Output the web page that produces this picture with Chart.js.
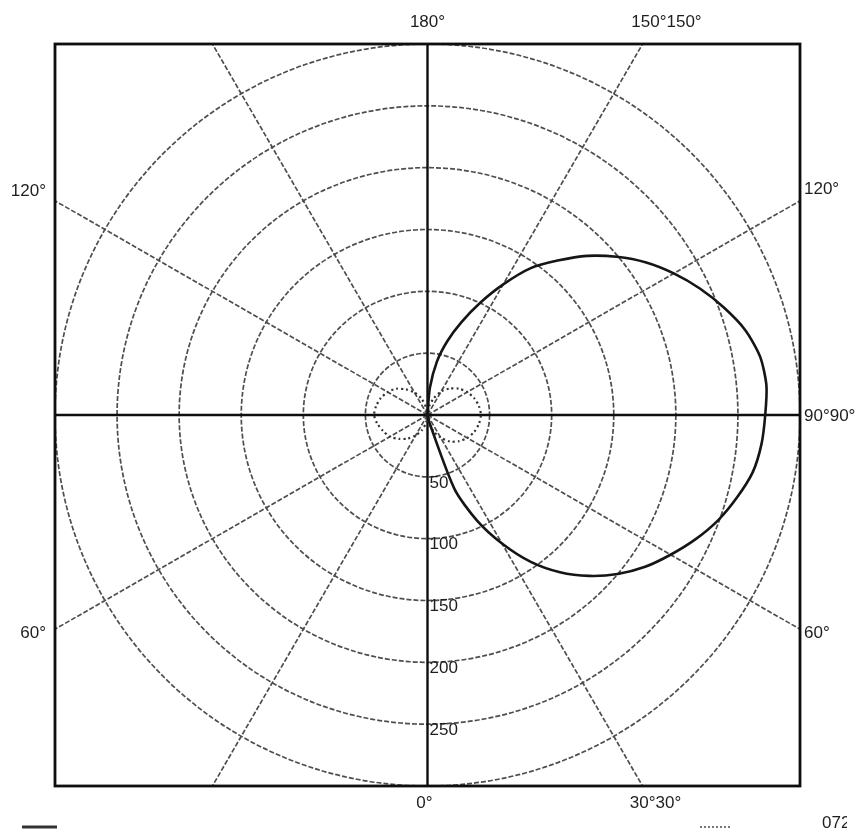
<!DOCTYPE html>
<html>
<head>
<meta charset="utf-8">
<script src="https://cdn.jsdelivr.net/npm/chart.js@4.4.1/dist/chart.umd.min.js"></script>
<style>
  html, body { margin: 0; padding: 0; background: #fff; }
  #wrap { position: relative; width: 862px; height: 837px; }
</style>
</head>
<body>
<div id="wrap"><canvas id="polar"></canvas></div>
<script>
// angles measured from the bottom (0°) round through the right (90°) to the top (180°)
const solidAngles = [0, 5, 10, 15, 20, 25, 30, 35, 40, 45, 50, 55, 60, 65, 70, 75, 80, 85, 90,
  95, 100, 105, 110, 115, 120, 125, 130, 135, 140, 145, 150, 155, 160, 165, 170, 175, 180]
const solidValues = [0, 0, 0, 8, 64, 94, 120, 145, 166, 184, 200, 214, 226, 238, 249, 258, 266, 270, 272,
  274, 272, 265, 254, 242, 229, 215, 199, 182, 163, 145, 122, 100, 80, 62, 44, 22, 0]

const dottedAngles = [0, 10, 20, 30, 40, 50, 60, 70, 80, 90, 100, 110, 120, 130, 140, 150, 160, 170,
  180, 190, 200, 210, 220, 230, 240, 250, 260, 270, 280, 290, 300, 310, 320, 330, 340, 350, 360]
const dottedValues = [0, 6, 14, 21, 28, 33, 37, 40, 42, 43, 42, 40, 37, 33, 28, 22, 14, 7,
  0, 6, 14, 21, 27, 33, 37, 40, 42, 43, 41, 38, 35, 30, 25, 19, 13, 6, 0]

const ringValues = [50, 100, 150, 200, 250, 300]
const ringLabels = ['50', '100', '150', '200', '250']
const spokeAngles = [30, 60, 120, 150, 210, 240, 300, 330]
const axisAngles = [0, 90, 180, 270]
const legendNote = '0720'

const toXY = (angles, values) => angles.map((a, i) => {
  const t = a * Math.PI / 180
  return { x: values[i] * Math.sin(t), y: -values[i] * Math.cos(t) }
})

const gridPlugin = {
  id: 'polarGrid',
  beforeDatasetsDraw(chart) {
    const { ctx, chartArea: ca, scales: { x, y } } = chart
    const cx = x.getPixelForValue(0)
    const cy = y.getPixelForValue(0)
    ctx.save()
    ctx.beginPath()
    ctx.rect(ca.left, ca.top, ca.right - ca.left, ca.bottom - ca.top)
    ctx.clip()

    // rings
    ctx.strokeStyle = '#4e4e4e'
    ctx.lineWidth = 1.7
    ctx.setLineDash([5, 2])
    ringValues.forEach(v => {
      const rx = x.getPixelForValue(v) - cx
      const ry = cy - y.getPixelForValue(v)
      ctx.beginPath()
      ctx.ellipse(cx, cy, rx, ry, 0, 0, Math.PI * 2)
      ctx.stroke()
    })

    // spokes every 30°
    spokeAngles.forEach(a => {
      const t = a * Math.PI / 180
      ctx.beginPath()
      ctx.moveTo(cx, cy)
      ctx.lineTo(x.getPixelForValue(600 * Math.sin(t)), y.getPixelForValue(-600 * Math.cos(t)))
      ctx.stroke()
    })

    // main axes
    ctx.setLineDash([])
    ctx.strokeStyle = '#0e0e0e'
    ctx.lineWidth = 2.4
    axisAngles.forEach(a => {
      const t = a * Math.PI / 180
      ctx.beginPath()
      ctx.moveTo(cx, cy)
      ctx.lineTo(x.getPixelForValue(600 * Math.sin(t)), y.getPixelForValue(-600 * Math.cos(t)))
      ctx.stroke()
    })
    ctx.restore()
  },
  afterDraw(chart) {
    const { ctx, chartArea: ca, scales: { x, y } } = chart
    const cx = x.getPixelForValue(0)
    const cy = y.getPixelForValue(0)
    ctx.save()

    // frame
    ctx.strokeStyle = '#0e0e0e'
    ctx.lineWidth = 2.8
    ctx.strokeRect(ca.left, ca.top, ca.right - ca.left, ca.bottom - ca.top)

    ctx.fillStyle = '#1e1e1e'
    ctx.font = '17px "Liberation Sans", Arial, sans-serif'
    ctx.textBaseline = 'middle'

    // ring values down the 0° axis
    ctx.textAlign = 'left'
    ringLabels.forEach((lab, i) => {
      ctx.fillText(lab, cx + 2, y.getPixelForValue(-ringValues[i]) + 6)
    })

    // angle labels round the frame
    ctx.textAlign = 'center'
    ctx.fillText('180°', cx, ca.top - 22)
    ctx.fillText('150°150°', cx + 239, ca.top - 22)
    ctx.fillText('0°', cx - 3, ca.bottom + 17)
    ctx.fillText('30°30°', cx + 228, ca.bottom + 17)
    ctx.textAlign = 'right'
    ctx.fillText('120°', ca.left - 9, cy - 224)
    ctx.fillText('60°', ca.left - 9, cy + 218)
    ctx.textAlign = 'left'
    ctx.fillText('120°', ca.right + 4, cy - 226)
    ctx.fillText('90°90°', ca.right + 4, cy + 1)
    ctx.fillText('60°', ca.right + 4, cy + 218)

    // legend marks
    ctx.strokeStyle = '#333'
    ctx.lineWidth = 3
    ctx.beginPath()
    ctx.moveTo(22, 827)
    ctx.lineTo(57, 827)
    ctx.stroke()
    ctx.strokeStyle = '#777'
    ctx.lineWidth = 2
    ctx.setLineDash([2, 2])
    ctx.beginPath()
    ctx.moveTo(700, 827)
    ctx.lineTo(730, 827)
    ctx.stroke()
    ctx.setLineDash([])

    ctx.beginPath()
    ctx.rect(0, 790, 847, 47)
    ctx.clip()
    ctx.fillText(legendNote, 822, 823)
    ctx.restore()
  }
}

new Chart(document.getElementById('polar'), {
  type: 'scatter',
  data: {
    datasets: [
      {
        label: 'solid',
        data: toXY(solidAngles, solidValues),
        showLine: true,
        borderColor: '#151515',
        borderWidth: 2.6,
        pointRadius: 0,
        tension: 0.25,
      },
      {
        label: 'dotted',
        data: toXY(dottedAngles, dottedValues),
        showLine: true,
        borderColor: '#333',
        borderWidth: 2.2,
        borderDash: [2, 3],
        pointRadius: 0,
        tension: 0.25,
      },
    ],
  },
  options: {
    responsive: true,
    maintainAspectRatio: false,
    animation: false,
    layout: { padding: { left: 55, right: 62, top: 44, bottom: 51 } },
    scales: {
      x: { type: 'linear', min: -300, max: 300, display: false },
      y: { type: 'linear', min: -300, max: 300, display: false },
    },
    plugins: {
      legend: { display: false },
      tooltip: { enabled: false },
    },
  },
  plugins: [gridPlugin],
})
</script>
</body>
</html>
